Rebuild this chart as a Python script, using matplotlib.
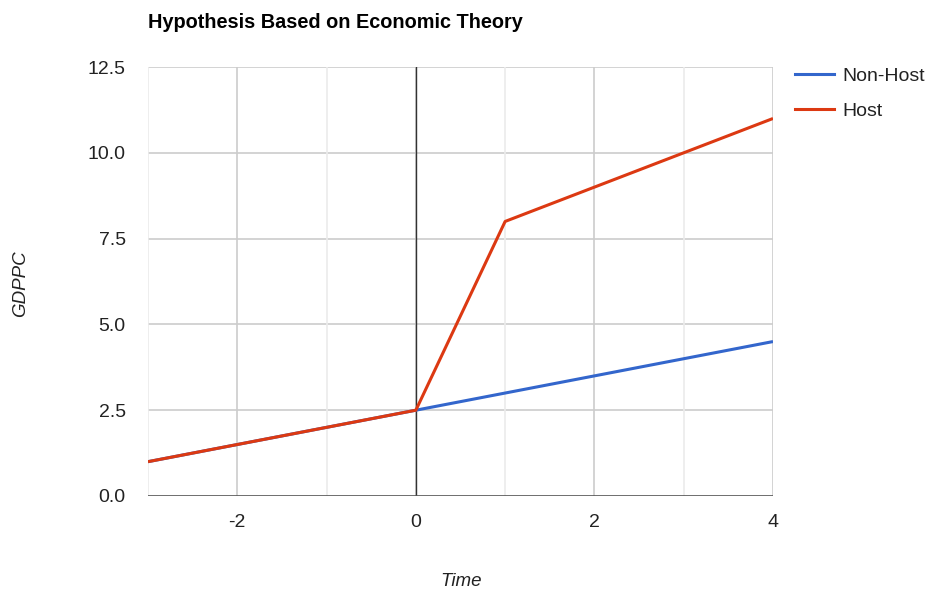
import matplotlib
matplotlib.use("Agg")
import matplotlib.pyplot as plt
from matplotlib.lines import Line2D

plt.rcParams['font.family'] = ['Liberation Sans', 'DejaVu Sans']

time = [-3, -2, -1, 0, 1, 2, 3, 4]
non_host = [1.0, 1.5, 2.0, 2.5, 3.0, 3.5, 4.0, 4.5]
host = [1.0, 1.5, 2.0, 2.5, 8.0, 9.0, 10.0, 11.0]
series_names = ["Non-Host", "Host"]
colors = ["#3366cc", "#dc3912"]
x_major = [-2, 0, 2, 4]
x_minor = [-1, 1, 3]
y_ticks = [0.0, 2.5, 5.0, 7.5, 10.0, 12.5]

fig = plt.figure(figsize=(9.3, 5.9), dpi=100)
ax = fig.add_axes([148/930, 1-496/590, (773-148)/930, (496-67)/590])
ax.set_xlim(-3, 4)
ax.set_ylim(0, 12.5)

for y in y_ticks[1:]:
    ax.axhline(y, color="#cccccc", lw=1.2, zorder=1)
for x in x_major:
    ax.axvline(x, color="#cccccc", lw=1.2, zorder=1)
for x in x_minor:
    ax.axvline(x, color="#ebebeb", lw=1.2, zorder=1)
ax.axvline(-3, color="#ebebeb", lw=1.2, zorder=1)
ax.axvline(0, color="#333333", lw=1.0, zorder=2)
ax.axhline(0, color="#555555", lw=1.2, zorder=2)

ax.plot(time, non_host, color=colors[0], lw=2.2, zorder=3, solid_capstyle='butt')
ax.plot(time, host, color=colors[1], lw=2.2, zorder=4, solid_capstyle='butt')

for s in ax.spines.values():
    s.set_visible(False)
ax.set_xticks(x_major)
ax.set_xticklabels([str(v) for v in x_major])
ax.set_yticks(y_ticks)
ax.set_yticklabels([f"{v:.1f}" for v in y_ticks])
ax.tick_params(length=0, labelsize=14, colors="#444444", labelcolor="#222222")
ax.tick_params(axis='x', pad=13)
ax.tick_params(axis='y', pad=16)

fig.text(148/930, 1-22/590, "Hypothesis Based on Economic Theory", fontsize=14.3,
         fontweight='bold', ha='left', va='center', color='#000000')
fig.text(461/930, 1-581/590, "Time", fontsize=13.5, style='italic', ha='center', va='center', color='#222222')
fig.text(21/930, 1-284/590, "GDPPC", fontsize=13.5, style='italic', rotation=90, ha='center', va='center', color='#222222')

handles = [Line2D([0], [0], color=c, lw=2.2) for c in colors]
leg = fig.legend(handles, series_names, loc='upper left', bbox_to_anchor=(795/930, 1-67/590),
                 frameon=False, fontsize=14, handlelength=2.0, handletextpad=0.45,
                 labelspacing=0.9, borderaxespad=0, borderpad=0)
for t in leg.get_texts():
    t.set_color('#222222')

fig.savefig("out.png", dpi=100)
